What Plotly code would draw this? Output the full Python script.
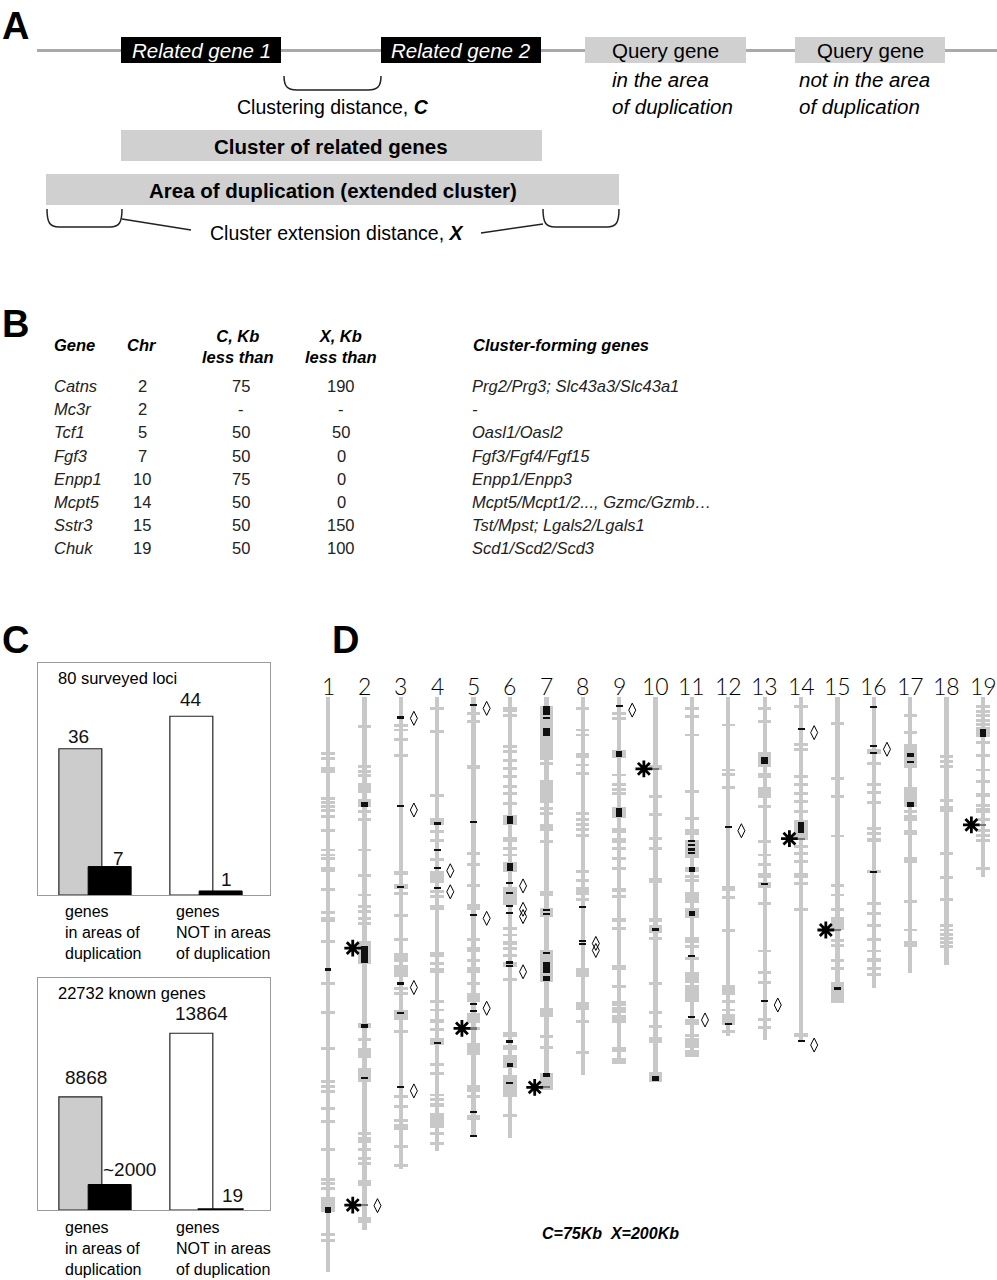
import plotly.graph_objects as go

# ------------------------------------------------------------------ DATA
# Panel B table
TABLE_GENES = ["Catns", "Mc3r", "Tcf1", "Fgf3", "Enpp1", "Mcpt5", "Sstr3", "Chuk"]
TABLE_CHR = ["2", "2", "5", "7", "10", "14", "15", "19"]
TABLE_C = ["75", "-", "50", "50", "75", "50", "50", "50"]
TABLE_X = ["190", "-", "50", "0", "0", "0", "150", "100"]
TABLE_CLUSTER = ["Prg2/Prg3; Slc43a3/Slc43a1", "-", "Oasl1/Oasl2", "Fgf3/Fgf4/Fgf15",
                 "Enpp1/Enpp3", "Mcpt5/Mcpt1/2..., Gzmc/Gzmb…", "Tst/Mpst; Lgals2/Lgals1",
                 "Scd1/Scd2/Scd3"]

# Panel C bar charts
C_GROUP_LABELS = ["genes<br>in areas of<br>duplication", "genes<br>NOT in areas<br>of duplication"]
LOCI_TOTAL = [36, 44]
LOCI_SELECTED = [7, 1]
LOCI_SELECTED_LABELS = ["7", "1"]
KNOWN_TOTAL = [8868, 13864]
KNOWN_SELECTED = [2000, 19]
KNOWN_SELECTED_LABELS = ["~2000", "19"]

# Panel D chromosomes (positions in Mb from the top of each chromosome)
CHR_NAMES = [str(i) for i in range(1, 20)]
CHR_LENGTHS = [196.8, 182.5, 161.8, 155.4, 150.5, 150.9, 134.6, 129.5, 125.7, 131.7,
               123.2, 116.1, 117.5, 117.5, 104.9, 99.5, 94.6, 91.8, 61.5]

GRAY_TICKS = [
    (1, [19.5, 21.0, 34.7, 36.2, 37.6, 38.9, 45.8, 52.4, 54.1, 55.2, 65.9, 73.9, 83.8, 98.1, 108.1,
         120.4, 131.7, 133.5, 135.2, 140.9, 145.4, 154.9, 166.5, 168.3, 184.2, 186.0]),
    (2, [10.2, 23.9, 25.6, 39.3, 42.1, 52.4, 61.0, 67.8, 71.8, 73.5, 75.8, 77.5, 117.2, 149.4,
         151.1, 152.3, 155.1, 158.0, 159.7]),
    (3, [9.9, 11.3, 14.7, 19.9, 67.2, 74.7, 83.2, 99.8, 101.5, 114.6, 136.9, 140.1, 144.9, 154.0, 160.3]),
    (4, [3.9, 11.9, 33.6, 46.1, 49.0, 55.8, 66.7, 68.4, 91.2, 104.3, 107.2, 114.0, 126.0, 128.9,
         136.3, 138.0, 149.4, 152.8]),
    (5, [5.6, 8.5, 53.5, 57.5, 64.4, 83.2, 90.1, 98.1, 113.5, 136.9]),
    (6, [6.2, 17.0, 18.7, 21.6, 24.4, 27.3, 30.7, 33.0, 36.4, 51.8, 54.1, 79.2, 81.5, 86.1, 88.4,
         96.9, 143.2]),
    (7, [22.7, 38.1, 39.8, 49.6, 116.3, 120.0]),
    (8, [3.9, 11.3, 13.0, 23.3, 26.1, 39.8, 42.1, 43.8, 45.5, 47.3, 59.8, 62.7, 69.5, 111.2, 121.8]),
    (9, [5.6, 7.3, 26.7, 30.1, 31.8, 33.0, 51.8, 55.2, 58.7, 68.4, 79.2, 99.2, 106.6, 107.8]),
    (10, [34.1, 40.1, 48.4, 51.8, 98.1, 108.1, 112.9]),
    (11, [3.9, 6.7, 13.0, 32.4, 41.6, 61.5, 62.7, 85.5, 89.5, 115.8]),
    (12, [9.6, 25.0, 26.4, 30.9, 68.6, 80.0, 104.3, 107.2, 114.6]),
    (13, [3.9, 8.5, 37.6, 49.6, 54.1, 57.5, 70.7, 87.0, 94.4, 97.8, 110.6, 113.1]),
    (14, [16.4, 17.9, 27.3, 30.1, 33.0, 35.9, 39.3, 51.3, 53.5, 56.4, 63.8, 72.9]),
    (15, [9.0, 27.8, 34.1, 47.6, 64.4, 67.8, 72.9, 83.5, 85.2, 90.1, 92.9]),
    (16, [22.7, 32.8, 36.2, 45.0, 46.7, 70.7, 74.1, 78.1, 83.2, 87.0, 92.9, 95.0]),
    (17, [6.2, 12.2, 39.3, 40.8, 42.1, 70.1, 79.8]),
    (18, [20.4, 22.2, 23.9, 35.3, 53.5, 61.7, 69.5, 78.4, 79.8, 81.2, 82.6, 84.1, 85.5]),
    (19, [3.4, 4.9, 6.4, 7.9, 9.4, 15.6, 19.9, 25.0, 29.0, 37.0, 42.1, 45.8, 47.3, 49.0, 58.7]),
]

GRAY_BLOCKS = [
    (1, [(23.9, 26.1), (40.4, 41.6), (58.1, 59.8), (75.2, 77.0), (164.6, 165.9), (171.1, 176.3)]),
    (2, [(26.3, 27.4), (29.6, 33.0), (35.0, 37.8), (83.5, 91.4), (111.8, 113.5), (120.3, 123.7),
         (127.2, 131.7), (165.4, 167.5), (178.2, 180.0)]),
    (3, [(59.5, 61.0), (64.2, 65.8), (87.8, 90.6), (91.8, 95.8), (107.2, 110.6), (146.2, 148.3)]),
    (4, [(41.6, 43.8), (59.5, 63.8), (71.2, 72.9), (87.2, 88.9), (92.9, 94.6), (110.4, 111.7),
         (116.9, 119.2), (139.2, 140.3), (142.6, 147.7)]),
    (5, [(23.3, 24.8), (70.9, 72.9), (85.5, 87.2), (92.4, 94.6), (101.5, 104.3), (108.3, 111.7),
         (118.6, 122.6), (132.9, 135.2), (143.2, 144.9)]),
    (6, [(3.3, 5.0), (40.4, 43.8), (47.8, 49.6), (56.6, 59.9), (65.0, 71.2), (83.4, 84.8),
         (90.6, 92.4), (114.6, 116.3), (119.2, 120.9), (122.6, 127.2), (129.5, 136.9)]),
    (7, [(3.1, 21.6), (28.4, 36.4), (43.5, 45.8), (66.3, 68.2), (72.4, 75.2), (86.6, 97.5),
         (106.6, 109.5), (128.7, 134.6)]),
    (8, [(19.3, 21.0), (65.0, 67.8), (92.9, 95.8), (104.3, 107.2)]),
    (9, [(18.2, 21.0), (37.6, 41.6), (45.0, 46.7), (48.4, 50.1), (65.5, 66.7), (75.8, 77.0),
         (91.8, 93.5), (104.0, 105.7), (109.0, 111.5), (119.8, 121.5), (123.7, 125.7)]),
    (10, [(23.3, 25.0), (62.1, 63.8), (75.8, 77.0), (78.1, 80.9), (82.1, 83.2), (116.5, 118.6),
          (128.3, 131.7)]),
    (11, [(45.3, 47.3), (49.0, 55.2), (58.3, 60.0), (66.7, 70.7), (72.4, 75.8), (82.1, 84.4),
          (94.1, 98.1), (98.6, 104.3), (110.3, 112.3), (116.9, 120.3), (120.9, 123.2)]),
    (12, [(64.7, 66.3), (98.6, 102.1), (108.6, 112.3)]),
    (13, [(18.7, 23.9), (26.1, 27.8), (30.7, 34.7), (60.4, 62.1), (63.3, 65.5)]),
    (14, [(2.7, 3.9), (42.1, 49.0), (60.2, 62.1), (115.0, 116.3)]),
    (15, [(75.2, 79.8), (97.5, 104.9)]),
    (16, [(17.9, 19.5), (29.3, 30.5), (48.4, 49.6), (59.2, 60.4), (89.5, 90.6)]),
    (17, [(16.1, 24.4), (30.7, 37.6), (45.5, 47.3), (54.7, 56.7), (83.6, 85.5)]),
    (18, [(37.3, 39.3)]),
    (19, [(10.2, 13.6), (32.8, 34.1), (38.1, 39.8)]),
]

BLACK_DASHES = [
    (1, [93.3]), (2, [130.4]), (3, [7.0, 37.3, 65.0, 98.1, 108.3, 133.5]),
    (4, [43.3, 52.4, 58.7, 65.5, 118.4]), (5, [2.7, 42.7, 74.7, 105.2, 107.5, 142.0, 150.3]),
    (6, [63.8, 67.2, 71.6, 74.1, 90.9, 92.2, 118.0, 132.3]), (7, [7.1, 72.9, 74.4, 87.8]),
    (8, [71.8, 83.6, 84.6]), (9, [3.1]), (10, [79.6]), (11, [49.2, 50.7, 52.2, 53.5, 88.6, 109.5]),
    (12, [44.4, 112.0]), (13, [64.1, 104.0]), (14, [11.0, 117.8]), (15, [99.8]),
    (16, [3.3, 16.8, 19.3, 59.8]), (17, [22.2]),
]

BLACK_BLOCKS = [
    (1, [(174.5, 176.6)]), (2, [(36.0, 37.5), (85.3, 91.2), (112.0, 113.3)]),
    (6, [(40.7, 43.5), (57.0, 59.5), (125.3, 126.8)]),
    (7, [(3.1, 6.2), (10.7, 13.3), (90.6, 94.5), (95.5, 97.3), (128.9, 130.0)]),
    (9, [(18.6, 20.4), (37.9, 41.0)]), (10, [(129.9, 131.5)]), (11, [(58.3, 60.0), (73.2, 75.0)]),
    (13, [(20.4, 23.0)]), (14, [(42.7, 46.7)]), (17, [(19.1, 20.4), (35.9, 37.6)]),
    (19, [(11.1, 13.6)]),
]

DIAMONDS = [
    (2, [174.2]), (3, [7.3, 38.7, 99.5, 134.9]), (4, [59.5, 66.7]), (5, [3.9, 75.8, 106.6]),
    (6, [64.7, 72.7, 75.2, 94.1]), (8, [84.4, 86.8]), (9, [4.5]), (11, [110.6]), (12, [45.8]),
    (13, [105.5]), (14, [12.2, 119.2]), (16, [17.9]),
]

ASTERISKS = [(2, [86.0, 174.0]), (5, [113.5]), (7, [133.7]), (10, [24.6]), (14, [48.5]),
             (15, [79.8]), (19, [43.8])]

# ------------------------------------------------------------------ STYLE
W, H = 997, 1280
FONT = "Liberation Sans, Arial, sans-serif"
GRAY = "#c8c8c8"
BOXGRAY = "#d0d0d0"

fig = go.Figure()


def pxx(x):
    return x / W


def pxy(y):
    return 1 - y / H


def ann(x, y, text, size, color="black", xanchor="center", yanchor="middle",
        family=FONT, align="left", xref="x4", yref="y4", **kw):
    fig.add_annotation(x=x, y=y, xref=xref, yref=yref, text=text, showarrow=False,
                       xanchor=xanchor, yanchor=yanchor, align=align,
                       font=dict(size=size, color=color, family=family, **kw))


def shape(**kw):
    kw.setdefault("xref", "x4")
    kw.setdefault("yref", "y4")
    fig.add_shape(**kw)


# ------------------------------------------------------------------ PANEL A (schematic)
shape(type="line", x0=37, x1=997, y0=50.5, y1=50.5, line=dict(color="#a9a9a9", width=3))
for x0, x1 in [(121, 281), (381, 541)]:
    shape(type="rect", x0=x0, x1=x1, y0=37, y1=63, fillcolor="black", line=dict(width=0))
for x0, x1 in [(585, 746), (795, 945)]:
    shape(type="rect", x0=x0, x1=x1, y0=37, y1=63, fillcolor=BOXGRAY, line=dict(width=0))
shape(type="rect", x0=121, x1=542, y0=130, y1=161, fillcolor=BOXGRAY, line=dict(width=0))
shape(type="rect", x0=46, x1=619, y0=174, y1=205, fillcolor=BOXGRAY, line=dict(width=0))

br = dict(color="#222", width=1.5)
shape(type="path", path="M 284,76 C 284,86 287,90 297,90 L 368,90 C 378,90 381,86 381,76", line=br)
shape(type="path", path="M 47,209 C 47,223 50,227 59,227 L 110,227 C 119,227 122,223 122,209", line=br)
shape(type="path", path="M 543,209 C 543,223 546,227 555,227 L 607,227 C 616,227 619,223 619,209", line=br)
shape(type="line", x0=122, y0=219, x1=191, y1=230, line=br)
shape(type="line", x0=481, y0=233, x1=543, y1=224, line=br)

ann(0, 3, "<b>A</b>", 38, xanchor="left", yanchor="top")
ann(201, 50, "<i>Related gene 1</i>", 20.5, color="white")
ann(461, 50, "<i>Related gene 2</i>", 20.5, color="white")
ann(665, 50, "Query gene", 20.5)
ann(870, 50, "Query gene", 20.5)
ann(610, 93, "<i>in the area<br>of duplication</i>", 20.5, xanchor="left", yanchor="middle")
ann(797, 93, "<i>not in the area<br>of duplication</i>", 20.5, xanchor="left", yanchor="middle")
ann(333, 107, "Clustering distance, <b><i>C</i></b>", 19.5)
ann(331, 146, "<b>Cluster of related genes</b>", 20.5)
ann(333, 190, "<b>Area of duplication (extended cluster)</b>", 20.5)
ann(337, 233, "Cluster extension distance, <b><i>X</i></b>", 19.5)

# ------------------------------------------------------------------ PANEL B (table)
ann(0, 324, "<b>B</b>", 38, xanchor="left")
HDR_Y = 345
ann(52, HDR_Y, "<b><i>Gene</i></b>", 16.5, xanchor="left")
ann(125, HDR_Y, "<b><i>Chr</i></b>", 16.5, xanchor="left")
ann(238, 346, "<b><i>C, Kb<br>less than</i></b>", 16.5, align="center")
ann(341, 346, "<b><i>X, Kb<br>less than</i></b>", 16.5, align="center")
ann(471, HDR_Y, "<b><i>Cluster-forming genes</i></b>", 16.5, xanchor="left")
ROW_Y0, ROW_DY = 386, 23.2
for i in range(len(TABLE_GENES)):
    y = ROW_Y0 + i * ROW_DY
    ann(52, y, "<i>" + TABLE_GENES[i] + "</i>", 16.5, xanchor="left", color="#222")
    ann(142, y, TABLE_CHR[i], 16.5, color="#222")
    ann(241, y, TABLE_C[i], 16.5, color="#222")
    ann(341, y, TABLE_X[i], 16.5, color="#222")
    ann(470, y, "<i>" + TABLE_CLUSTER[i] + "</i>", 16.5, xanchor="left", color="#222")

# ------------------------------------------------------------------ PANEL C (bars)
ann(0, 640, "<b>C</b>", 38, xanchor="left")
ann(330, 640, "<b>D</b>", 38, xanchor="left")

GROUP_X = [0, 1]
OFF = 0.132
BW = 0.387
TOTAL_COLORS = ["#cccccc", "white"]

panels = [
    dict(xa="x", ya="y", total=LOCI_TOTAL, sel=LOCI_SELECTED, sel_lab=LOCI_SELECTED_LABELS,
         title="80 surveyed loci", title_y=678, lab_top=901, ymax=57.1,
         tot_dx=[-1.5, 0], tot_dy=[12.5, 16.5], sel_dx=[8.5, 6], sel_dy=[8.5, 11.5], sel_lw=[1, 1]),
    dict(xa="x2", ya="y2", total=KNOWN_TOTAL, sel=KNOWN_SELECTED, sel_lab=KNOWN_SELECTED_LABELS,
         title="22732 known genes", title_y=993, lab_top=1217, ymax=18200,
         tot_dx=[5.5, 10.5], tot_dy=[19, 20], sel_dx=[20, 12], sel_dy=[15, 14.5], sel_lw=[1, 3]),
]
for p in panels:
    for g in GROUP_X:
        fig.add_trace(go.Bar(x=[g - OFF], y=[p["total"][g]], width=BW, xaxis=p["xa"], yaxis=p["ya"],
                             marker=dict(color=TOTAL_COLORS[g], line=dict(color="#222", width=1.2)),
                             showlegend=False, hoverinfo="skip"))
    fig.add_trace(go.Bar(x=[g + OFF for g in GROUP_X], y=p["sel"], width=BW, xaxis=p["xa"], yaxis=p["ya"],
                         marker=dict(color="black", line=dict(color="black", width=p["sel_lw"])),
                         showlegend=False, hoverinfo="skip"))
    for g in GROUP_X:
        fig.add_annotation(x=g - OFF, y=p["total"][g], xref=p["xa"], yref=p["ya"], text=f"{p['total'][g]}",
                           showarrow=False, xshift=p["tot_dx"][g], yshift=p["tot_dy"][g],
                           font=dict(size=19, family=FONT, color="#111"))
        fig.add_annotation(x=g + OFF, y=p["sel"][g], xref=p["xa"], yref=p["ya"], text=p["sel_lab"][g],
                           showarrow=False, xshift=p["sel_dx"][g], yshift=p["sel_dy"][g],
                           font=dict(size=19, family=FONT, color="#111"))
    ann(56, p["title_y"], p["title"], 16.5, xanchor="left")
    ann(63, p["lab_top"], C_GROUP_LABELS[0], 16, xanchor="left", yanchor="top")
    ann(174, p["lab_top"], C_GROUP_LABELS[1], 16, xanchor="left", yanchor="top")

# ------------------------------------------------------------------ PANEL D (chromosomes)
TICK_H = 1.0
DASH_H = 0.75
BAND_W = 0.37
MARK_W = 0.19


def flat_points(pairs):
    xs, ys = [], []
    for c, vals in pairs:
        for v in vals:
            xs.append(c)
            ys.append(v)
    return xs, ys


def flat_spans(pairs):
    xs, b, h = [], [], []
    for c, spans in pairs:
        for s, e in spans:
            xs.append(c)
            b.append(s)
            h.append(e - s)
    return xs, b, h


chr_x = list(range(1, len(CHR_NAMES) + 1))
D = dict(xaxis="x3", yaxis="y3", showlegend=False, hoverinfo="skip")
fig.add_trace(go.Bar(x=chr_x, y=CHR_LENGTHS, base=[0] * len(chr_x), width=0.12,
                     marker=dict(color=GRAY, line=dict(width=0)), **D))
tx, ty = flat_points(GRAY_TICKS)
fig.add_trace(go.Bar(x=tx, y=[TICK_H] * len(tx), base=[v - TICK_H / 2 for v in ty], width=BAND_W,
                     marker=dict(color=GRAY, line=dict(width=0)), **D))
bx, bb, bh = flat_spans(GRAY_BLOCKS)
fig.add_trace(go.Bar(x=bx, y=bh, base=bb, width=BAND_W, marker=dict(color=GRAY, line=dict(width=0)), **D))
ax_, ay_ = flat_points(ASTERISKS)
fig.add_trace(go.Bar(x=ax_, y=[DASH_H] * len(ax_), base=[v - DASH_H / 2 for v in ay_], width=MARK_W,
                     marker=dict(color="#7a7a7a", line=dict(width=0)), **D))
dx_, dy_ = flat_points(BLACK_DASHES)
fig.add_trace(go.Bar(x=dx_, y=[DASH_H] * len(dx_), base=[v - DASH_H / 2 for v in dy_], width=MARK_W,
                     marker=dict(color="#111", line=dict(width=0)), **D))
kx, kb, kh = flat_spans(BLACK_BLOCKS)
fig.add_trace(go.Bar(x=kx, y=kh, base=kb, width=0.18, marker=dict(color="#111", line=dict(width=0)), **D))
mx, my = flat_points(DIAMONDS)
fig.add_trace(go.Scatter(x=[c + 0.36 for c in mx], y=my, mode="markers",
                         marker=dict(symbol="diamond-tall-open", size=10, color="black",
                                     line=dict(width=1, color="black")), **D))
fig.add_trace(go.Scatter(x=[c - 0.32 for c in ax_], y=ay_, mode="markers",
                         marker=dict(symbol="asterisk-open", size=14, color="black",
                                     line=dict(width=2.8, color="black")), **D))
for c, name in zip(chr_x, CHR_NAMES):
    fig.add_annotation(x=c, y=-3.8, xref="x3", yref="y3", text=name, showarrow=False,
                       font=dict(size=23, family="Lato, Liberation Sans, sans-serif", color="#000", weight=300))
ann(610, 1233, "<b><i>C=75Kb  X=200Kb</i></b>", 16, family="Liberation Sans, Arial, sans-serif")

# ------------------------------------------------------------------ LAYOUT
hidden = dict(visible=False, showgrid=False, zeroline=False, fixedrange=True)
boxed = dict(showline=True, mirror=True, linecolor="#9a9a9a", linewidth=1, ticks="",
             showticklabels=False, showgrid=False, zeroline=False, fixedrange=True)

fig.update_layout(
    width=W, height=H, autosize=False,
    margin=dict(l=0, r=0, t=0, b=0, pad=0),
    paper_bgcolor="white", plot_bgcolor="rgba(0,0,0,0)",
    barmode="overlay", bargap=0,
    xaxis=dict(domain=[pxx(38), pxx(270)], range=[-0.5135, 1.5766], anchor="y", **boxed),
    yaxis=dict(domain=[pxy(895), pxy(663)], range=[0, 57.1], anchor="x", **boxed),
    xaxis2=dict(domain=[pxx(38), pxx(270)], range=[-0.5135, 1.5766], anchor="y2", **boxed),
    yaxis2=dict(domain=[pxy(1210), pxy(978)], range=[0, 18200], anchor="x2", **boxed),
    xaxis3=dict(domain=[pxx(300), 1], range=[0.2306, 19.384], anchor="y3", **hidden),
    yaxis3=dict(domain=[0, pxy(660)], range=[199.66, -12.67], anchor="x3", **hidden),
    xaxis4=dict(domain=[0, 1], range=[0, W], anchor="y4", **hidden),
    yaxis4=dict(domain=[0, 1], range=[H, 0], anchor="x4", **hidden),
    showlegend=False,
)

fig.write_html("out.html", config={"displayModeBar": False, "staticPlot": True},
               post_script="document.body.style.margin='0';document.body.style.overflow='hidden';")
